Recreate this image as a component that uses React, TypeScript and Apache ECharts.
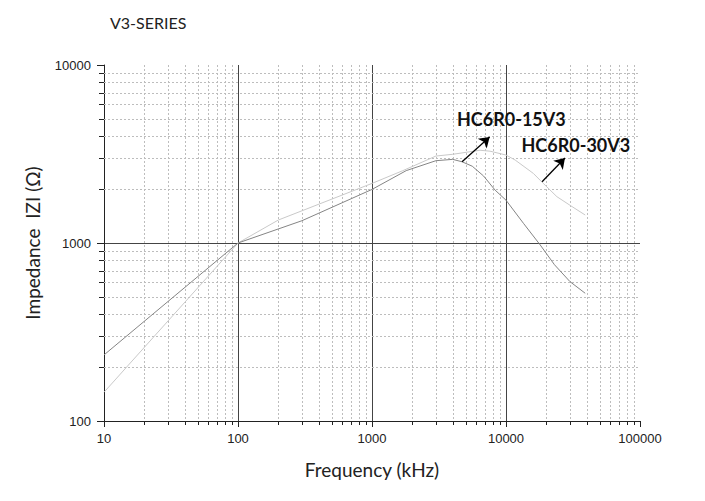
import React, { useEffect, useRef } from "react";
import * as echarts from "echarts";

// Frequency (kHz) / Impedance (Ohm)
const freq15 = [10, 100, 300, 1000, 1800, 3000, 4000, 4700, 5600, 6800, 8300, 10000, 13500, 18000, 23000, 30000, 39000];
const imp15 = [235, 1000, 1334, 2000, 2550, 2900, 2950, 2860, 2700, 2380, 1980, 1740, 1290, 975, 755, 607, 522];
const freq30 = [10, 100, 200, 1000, 1700, 3000, 4000, 6400, 7600, 10000, 11700, 16000, 19000, 24000, 30000, 39000];
const imp30 = [145, 1000, 1346, 2162, 2550, 3080, 3150, 3320, 3280, 3120, 2925, 2460, 2160, 1820, 1630, 1436];

const xTicks = [10, 100, 1000, 10000, 100000];
const yTicks = [100, 1000, 10000];
const minorMultipliers = [2, 3, 4, 5, 6, 7, 8, 9];

const seriesNames = ["HC6R0-15V3", "HC6R0-30V3"];

// annotation anchors in data coordinates
const arrow15 = [[4700, 2857], [7550, 3945]];
const arrow30 = [[18580, 2208], [27540, 3000]];
const label15 = [10960, 5000];
const label30 = [33200, 3573];

const xMin = xTicks[0];
const xMax = xTicks[xTicks.length - 1];
const yMin = yTicks[0];
const yMax = yTicks[yTicks.length - 1];

const xMinor: number[] = [];
xTicks.slice(0, -1).forEach((d) => minorMultipliers.forEach((m) => xMinor.push(d * m)));
const yMinor: number[] = [];
yTicks.slice(0, -1).forEach((d) => minorMultipliers.forEach((m) => yMinor.push(d * m)));

const px = (v: number) => Math.round(v) + 0.5;

export default function App() {
  const ref = useRef<HTMLDivElement>(null);
  useEffect(() => {
    document.body.style.margin = "0";
    const chart = echarts.init(ref.current!, null, { renderer: "svg" });
    const fmt = (v: number) => String(Math.round(v));
    const gridMinor = { stroke: "#bdbdbd", lineWidth: 1, lineDash: [2, 2] };
    const tickStyle = { stroke: "#222", lineWidth: 1 };
    const annLabel = (text: string) => ({
      show: true,
      position: "inside",
      formatter: text,
      fontFamily: "Lato",
      fontWeight: "bold",
      fontSize: 18,
      color: "#111",
    });
    chart.setOption({
      animation: false,
      backgroundColor: "#fff",
      title: {
        text: "V3-SERIES",
        left: 110,
        top: 14,
        padding: 0,
        textStyle: { fontFamily: "Lato", fontSize: 16, fontWeight: "normal", color: "#222" },
      },
      grid: { left: 104, right: 65, top: 65, bottom: 80, containLabel: false },
      xAxis: {
        type: "log",
        logBase: 10,
        min: xMin,
        max: xMax,
        name: "Frequency (kHz)",
        nameLocation: "middle",
        nameGap: 39,
        nameTextStyle: { fontFamily: "Lato", fontSize: 19, color: "#222" },
        axisLine: { show: true, lineStyle: { color: "#222", width: 1 } },
        axisTick: { show: true, inside: false, length: 6, lineStyle: { color: "#222" } },
        axisLabel: { formatter: fmt, margin: 11, fontFamily: "Liberation Sans", fontSize: 13, color: "#222" },
        splitLine: { show: true, showMinLine: false, showMaxLine: false, lineStyle: { color: "#444", width: 1 } },
      },
      yAxis: {
        type: "log",
        logBase: 10,
        min: yMin,
        max: yMax,
        name: "Impedance  IZI (Ω)",
        nameLocation: "middle",
        nameGap: 62,
        nameRotate: 90,
        nameTextStyle: { fontFamily: "Lato", fontSize: 19, color: "#222" },
        axisLine: { show: true, lineStyle: { color: "#222", width: 1 } },
        axisTick: { show: true, inside: false, length: 7, lineStyle: { color: "#222" } },
        axisLabel: { formatter: fmt, margin: 13, fontFamily: "Liberation Sans", fontSize: 13, color: "#222" },
        splitLine: { show: true, showMinLine: false, showMaxLine: false, lineStyle: { color: "#444", width: 1 } },
      },
      series: [
        {
          type: "custom",
          z: 1,
          silent: true,
          clip: false,
          data: xMinor.map((v) => [v, yMin]),
          renderItem: (_p: any, api: any) => {
            const v = api.value(0);
            const t = api.coord([v, yMax]);
            const b = api.coord([v, yMin]);
            const x = px(t[0]);
            return {
              type: "group",
              children: [
                { type: "line", shape: { x1: x, y1: t[1], x2: x, y2: b[1] }, style: gridMinor },
                { type: "line", shape: { x1: x, y1: b[1], x2: x, y2: b[1] + 4 }, style: tickStyle },
              ],
            };
          },
        },
        {
          type: "custom",
          z: 1,
          silent: true,
          clip: false,
          data: yMinor.map((v) => [xMin, v]),
          renderItem: (_p: any, api: any) => {
            const v = api.value(1);
            const l = api.coord([xMin, v]);
            const r = api.coord([xMax, v]);
            const y = px(l[1]);
            return {
              type: "group",
              children: [
                { type: "line", shape: { x1: l[0], y1: y, x2: r[0], y2: y }, style: gridMinor },
                { type: "line", shape: { x1: l[0] - 5, y1: y, x2: l[0], y2: y }, style: tickStyle },
              ],
            };
          },
        },
        {
          name: seriesNames[0],
          type: "line",
          z: 3,
          showSymbol: false,
          symbol: "none",
          lineStyle: { color: "#858585", width: 1 },
          data: freq15.map((f, i) => [f, imp15[i]]),
          markLine: {
            silent: true,
            symbol: ["none", "arrow"],
            symbolSize: 10,
            label: { show: false },
            lineStyle: { color: "#000", width: 1.3, type: "solid" },
            data: [[{ coord: arrow15[0] }, { coord: arrow15[1] }]],
          },
          markPoint: {
            silent: true,
            symbol: "circle",
            symbolSize: 0,
            label: annLabel(seriesNames[0]),
            data: [{ coord: label15 }],
          },
        },
        {
          name: seriesNames[1],
          type: "line",
          z: 2,
          showSymbol: false,
          symbol: "none",
          lineStyle: { color: "#c9c9c9", width: 1 },
          data: freq30.map((f, i) => [f, imp30[i]]),
          markLine: {
            silent: true,
            symbol: ["none", "arrow"],
            symbolSize: 10,
            label: { show: false },
            lineStyle: { color: "#000", width: 1.3, type: "solid" },
            data: [[{ coord: arrow30[0] }, { coord: arrow30[1] }]],
          },
          markPoint: {
            silent: true,
            symbol: "circle",
            symbolSize: 0,
            label: annLabel(seriesNames[1]),
            data: [{ coord: label30 }],
          },
        },
      ],
    });
    return () => chart.dispose();
  }, []);
  return <div ref={ref} style={{ width: 705, height: 501 }} />;
}
